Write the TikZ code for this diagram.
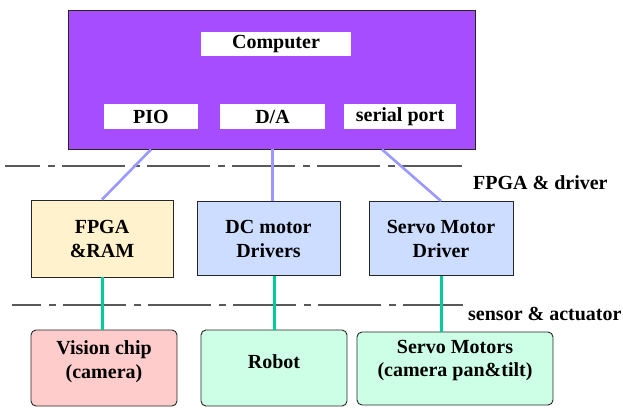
\documentclass[tikz,border=0pt]{standalone}
\usepackage{fontspec}
\setmainfont{Liberation Serif}
\usetikzlibrary{calc}

\definecolor{pcpurple}{RGB}{166,77,255}
\definecolor{fpgayellow}{RGB}{255,242,204}
\definecolor{drvblue}{RGB}{204,221,255}
\definecolor{campink}{RGB}{255,204,204}
\definecolor{actgreen}{RGB}{204,255,230}
\definecolor{busblue}{RGB}{153,153,255}
\definecolor{wiregreen}{RGB}{0,204,153}

\begin{document}
\begin{tikzpicture}[x=1pt, y=-1pt, font=\bfseries\fontsize{20}{24}\selectfont]
		\tikzstyle{box}=[rectangle, draw=black!85, line width=0.9pt, align=center, inner sep=0pt]
		\tikzstyle{port}=[rectangle, fill=white, inner sep=0pt, minimum height=25pt]
		\tikzstyle{unit}=[box, minimum height=74pt]
		\tikzstyle{dev}=[box, rounded corners=5pt, fill=actgreen, minimum height=76pt]
		\tikzstyle{bus}=[line width=2.6pt, busblue]
		\tikzstyle{wire}=[line width=3pt, wiregreen]
		\tikzstyle{layer}=[line width=1.3pt, black!65, dash pattern=on 63pt off 8pt on 7pt off 7pt]
		\useasboundingbox (0,0) rectangle (623,407);
		% host
		\node[box, fill=pcpurple, minimum width=407pt, minimum height=139pt] (pc) at (271.5,79.5) {};
		\node[port, minimum width=150pt, minimum height=24pt] (pcname) at (276,44) {Computer};
		\node[port, minimum width=94pt] (pio) at (151,116.5) {PIO};
		\node[port, minimum width=105pt] (da) at (272.5,116.5) {D/A};
		\node[port, minimum width=112pt] (serial) at (400,116.5) {serial port};
		% drivers
		\node[unit, fill=fpgayellow, minimum width=142pt, minimum height=77pt] (fpga) at (102,238.5) {FPGA\\\&RAM};
		\node[unit, fill=drvblue, minimum width=143pt] (dc) at (268.5,238.5) {DC motor\\Drivers};
		\node[unit, fill=drvblue, minimum width=144pt] (servodrv) at (441,238.5) {Servo Motor\\Driver};
		% sensors and actuators
		\node[dev, fill=campink, minimum width=146pt, label={[yshift=6pt, align=center]center:Vision chip\\(camera)}] (vision) at (104,368) {};
		\node[dev, minimum width=146pt, label={[yshift=6pt]center:Robot}] (robot) at (274,368) {};
		\node[dev, minimum width=196pt, minimum height=73pt, label={[yshift=8pt, align=center]center:Servo Motors\\(camera pan\&tilt)}] (servo) at (455,368.5) {};
		% layer separators
		\draw[layer, dash phase=28pt] (5,166) -- (462,166);
		\draw[layer, dash phase=34pt] (12,305) -- (463,305);
		\node[anchor=west, inner sep=0pt] (drvlayer) at (473,183) {FPGA \& driver};
		\node[anchor=west, inner sep=0pt] (actlayer) at (468,314) {sensor \& actuator};
		% links
		\draw[bus] (pio.south |- pc.south) -- (fpga.north);
		\draw[bus] (da.south |- pc.south) -- (da.south |- dc.north);
		\draw[bus] ($(serial.south |- pc.south)+(-18,0)$) -- (servodrv.north);
		\draw[wire] (fpga.south) -- (fpga.south |- vision.north);
		\draw[wire] (robot.north |- dc.south) -- (robot.north);
		\draw[wire] (servodrv.south) -- (servodrv.south |- servo.north);
	\end{tikzpicture}
\end{document}
